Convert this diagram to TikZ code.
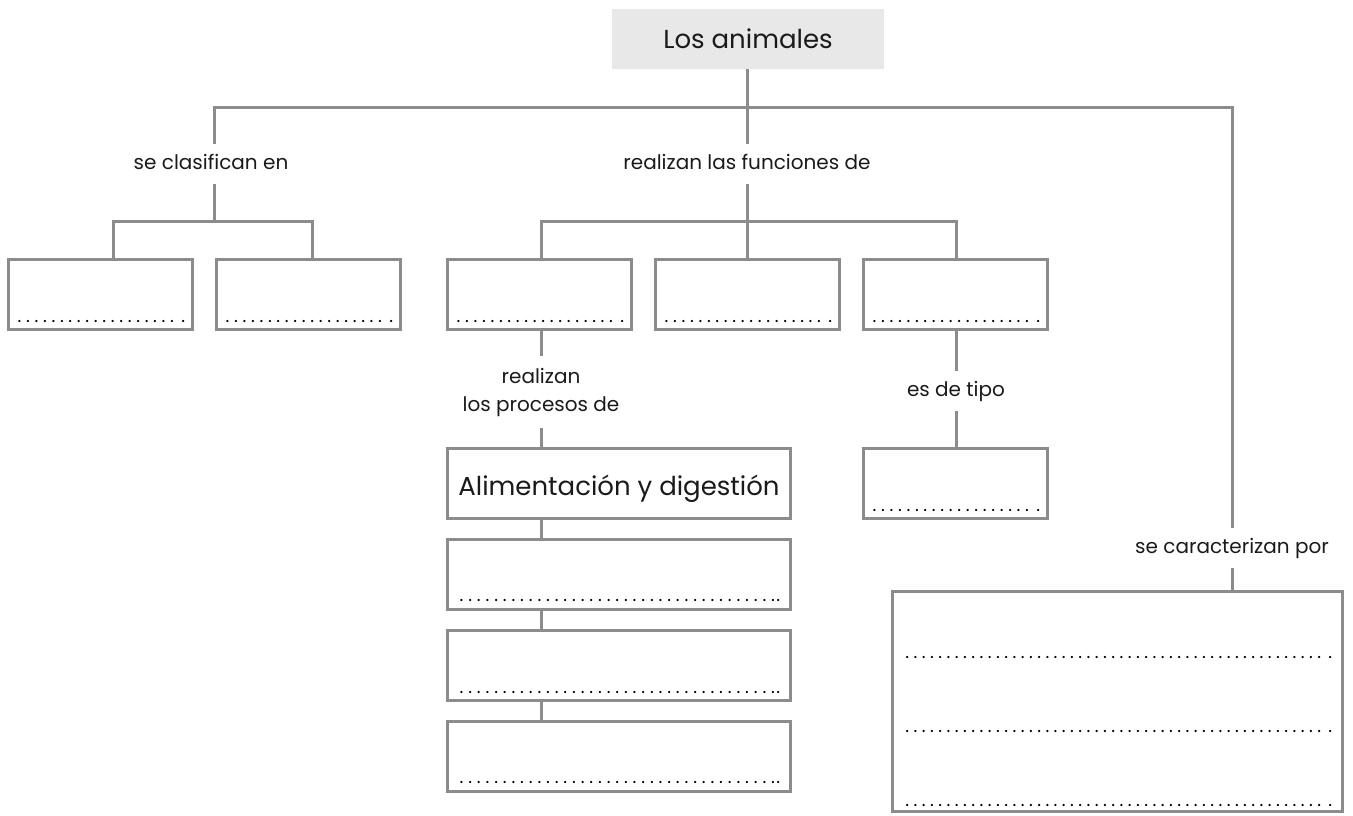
\documentclass[tikz,border=0pt]{standalone}
\usepackage{fontspec}
\setmainfont{Poppins}
\definecolor{lg}{HTML}{8C8C8C}
\definecolor{topfill}{HTML}{E8E8E8}
\definecolor{ink}{HTML}{1A1A1A}
\newcommand\dotrow[3]{\hbox to #1{\xleaders\hbox to #2{\hss.\hss}\hfill\kern#3\relax.}}
\begin{document}
\begin{tikzpicture}[x=1pt,y=-1pt,
  conn/.style={draw=lg,line width=3pt},
  box/.style={draw=lg,line width=3pt,fill=white,inner sep=0pt,minimum width=184pt,minimum height=70pt,font=\fontsize{26}{30}\selectfont,text=ink},
  widebox/.style={box,minimum width=343pt},
  lab/.style={inner xsep=2pt,inner ysep=9.5pt,text height=15pt,text depth=5pt,font=\fontsize{20}{28}\selectfont,text=ink},
  dots/.style={anchor=west,inner sep=0pt,font=\fontsize{18}{18}\selectfont,text=black}]
\useasboundingbox (0,0) rectangle (1353,815);

% top
\node[fill=topfill,minimum width=272pt,minimum height=60pt,inner sep=0pt,font=\fontsize{26}{30}\selectfont,text=ink] (top) at (748,39) {Los animales};

% boxes
\node[box] (l1) at (100.5,294.5) {};
\node[box] (l2) at (308.5,294.5) {};
\node[box] (m1) at (539.5,294.5) {};
\node[box] (m2) at (747.5,294.5) {};
\node[box] (m3) at (955.5,294.5) {};
\node[widebox,text height=24pt,text depth=0pt] (ali) at (619,483) {Alimentación y digestión};
\node[widebox] (p2) at (619,574) {};
\node[widebox] (p3) at (619,665) {};
\node[widebox] (p4) at (619,756) {};
\node[box] (tipo) at (955.5,483) {};
\node[box,minimum width=450pt,minimum height=220pt] (car) at (1117.5,701.5) {};

% labels
\node[lab] (lab1) at (211,164) {se clasifican en};
\node[lab] (lab2) at (747,164) {realizan las funciones de};
\node[lab,align=center,inner ysep=12pt,text height=,text depth=] (lab3) at (541,392) {realizan\\los procesos de};
\node[lab] (lab4) at (956,391) {es de tipo};
\node[lab] (lab5) at (1232,548) {se caracterizan por};

% coordinates
\coordinate (j0) at (747,107);
\coordinate (jl) at (214,107);
\coordinate (jr) at (1232,107);
\coordinate (jl2) at (214,221);
\coordinate (a1) at (113,221);
\coordinate (a2) at (312,221);
\coordinate (b1) at (541,221);
\coordinate (b2) at (747,221);
\coordinate (b3) at (956,221);

% connectors
\draw[conn] (top.south -| j0) -- (j0);
\draw[conn] (lab1.north -| jl) -- (jl) -- (jr) -- (lab5.north);
\draw[conn] (j0) -- (lab2.north);
\draw[conn] (lab1.south -| jl2) -- (jl2);
\draw[conn] (l1.north -| a1) -- (a1) -- (a2) -- (l2.north -| a2);
\draw[conn] (m1.north -| b1) -- (b1) -- (b3) -- (m3.north -| b3);
\draw[conn] (lab2.south) -- (b2) -- (m2.north -| b2);
\draw[conn] (m1.south -| b1) -- (lab3.north -| b1);
\draw[conn] (lab3.south -| b1) -- (ali.north -| b1);
\draw[conn] (ali.south -| b1) -- (p2.north -| b1);
\draw[conn] (p2.south -| b1) -- (p3.north -| b1);
\draw[conn] (p3.south -| b1) -- (p4.north -| b1);
\draw[conn] (m3.south -| b3) -- (lab4.north);
\draw[conn] (lab4.south) -- (tipo.north -| lab4.south);
\draw[conn] (lab5.south) -- (car.north -| lab5.south);

% dotted answer lines
\node[dots] (d1) at (15,321) {\dotrow{170pt}{8.3pt}{5pt}};
\node[dots] (d2) at (223,321) {\dotrow{170pt}{8.3pt}{5pt}};
\node[dots] (d3) at (454,321) {\dotrow{170pt}{8.3pt}{5pt}};
\node[dots] (d4) at (662,321) {\dotrow{170pt}{8.3pt}{5pt}};
\node[dots] (d5) at (870,321) {\dotrow{170pt}{8.3pt}{5pt}};
\node[dots] (d6) at (870,510) {\dotrow{170pt}{8.3pt}{5pt}};
\node[dots] (d7) at (457,600) {\dotrow{323pt}{8.6pt}{-1pt}};
\node[dots] (d8) at (457,692) {\dotrow{323pt}{8.6pt}{-1pt}};
\node[dots] (d9) at (457,782) {\dotrow{323pt}{8.6pt}{-1pt}};
\node[dots] (d10) at (903,657) {\dotrow{429pt}{8.2pt}{5pt}};
\node[dots] (d11) at (903,731) {\dotrow{429pt}{8.2pt}{5pt}};
\node[dots] (d12) at (903,805) {\dotrow{429pt}{8.2pt}{5pt}};
\end{tikzpicture}
\end{document}
